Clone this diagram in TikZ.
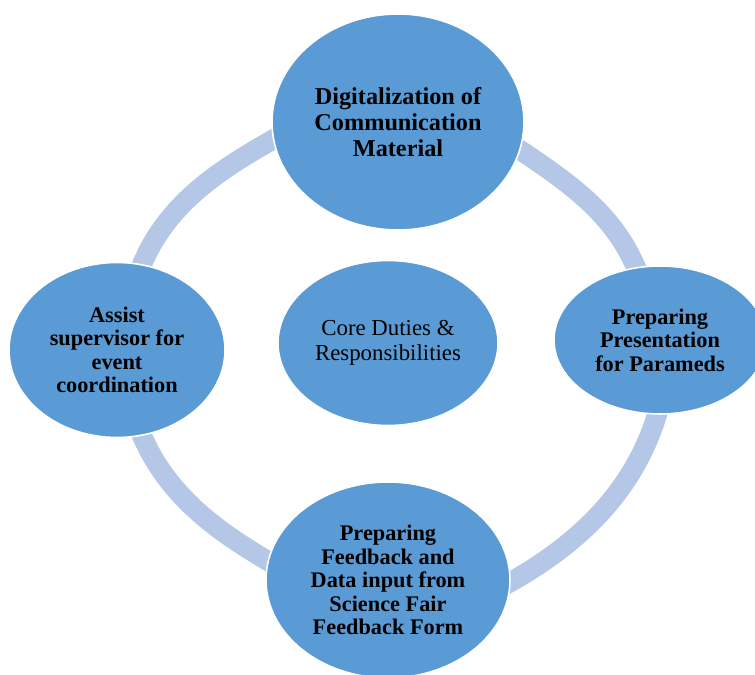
\documentclass[tikz,border=0pt]{standalone}
\usepackage{fontspec}
\setmainfont{Liberation Serif}
\usepackage{xcolor}
\usetikzlibrary{shapes.geometric,backgrounds}
\definecolor{dutyblue}{HTML}{5B9BD5}
\definecolor{ringblue}{HTML}{B4C7E7}

\begin{document}
\begin{tikzpicture}[x=0.02cm, y=-0.02cm,
  duty/.style={ellipse, fill=dutyblue, draw=white, line width=0.9pt, inner sep=0pt, align=center,
    font=\bfseries\fontsize{12.7}{13.4}\selectfont},
  ring/.style={ringblue, line width=0.4cm, looseness=0.88, shorten <=-8pt, shorten >=-8pt}]
\useasboundingbox (0,0) rectangle (755,675);

% Duties around the cycle
\node[duty, minimum width=5.04cm, minimum height=4.32cm, font=\bfseries\fontsize{13.8}{15}\selectfont]
  (digital) at (398,122) {Digitalization of\\Communication\\Material};
\node[duty, minimum width=4.32cm, minimum height=3.5cm] (assist) at (117,350) {Assist\\supervisor for\\event\\coordination};
\node[duty, minimum width=4.24cm, minimum height=2.96cm] (parameds) at (660,340) {Preparing\\Presentation\\for Parameds};
\node[duty, minimum width=4.88cm, minimum height=3.92cm] (feedback) at (388,580)
  {Preparing\\Feedback and\\Data input from\\Science Fair\\Feedback Form};

% Centre
\node[duty, minimum width=4.4cm, minimum height=3.3cm, font=\fontsize{13}{14.2}\selectfont]
  (core) at (388,343) {Core Duties \&\\Responsibilities};

% Ring behind the duties
\begin{scope}[on background layer]
\draw[ring] (digital.188) to[out=209, in=71] (assist.74);
\draw[ring] (assist.286) to[out=290, in=150] (feedback.171);
\draw[ring] (feedback.359) to[out=28, in=256] (parameds.268);
\draw[ring] (parameds.108) to[out=109, in=326] (digital.347);
\end{scope}
\end{tikzpicture}
\end{document}
